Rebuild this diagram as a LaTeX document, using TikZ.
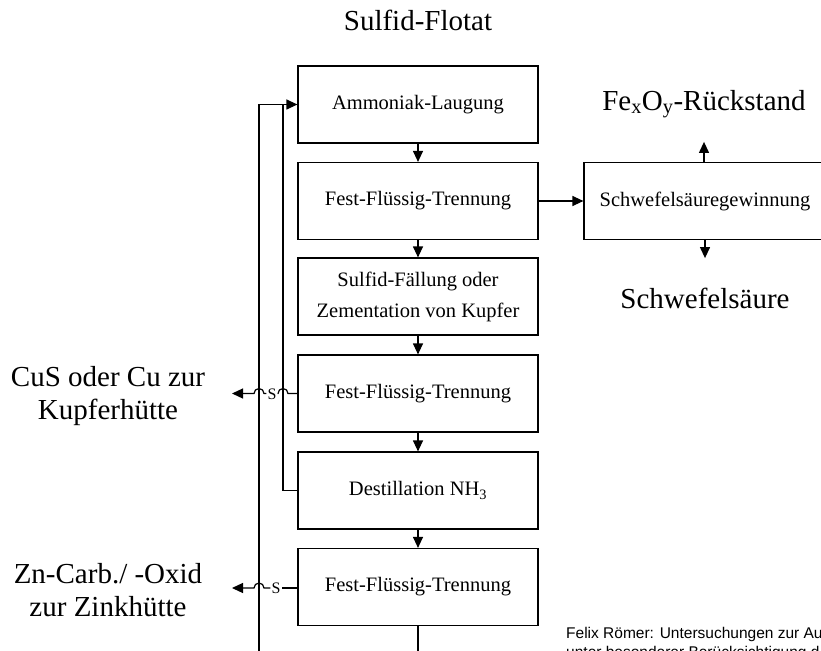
\documentclass[tikz,border=0pt]{standalone}
\usepackage{fontspec}
\setmainfont{Liberation Serif}
\newfontfamily\footfont{Liberation Sans}
\usetikzlibrary{arrows.meta}
\begin{document}
\begin{tikzpicture}[x=1pt,y=-1pt,
  procbox/.style={draw, line width=1.2pt, minimum width=240pt, minimum height=77pt,
    inner sep=0pt, align=center, font=\fontsize{20.5}{31}\selectfont},
  biglabel/.style={font=\fontsize{29}{33}\selectfont, align=center, inner sep=0pt},
  flow/.style={line width=1.2pt, -{Triangle[length=11pt,width=10pt]}},
  plainline/.style={line width=1.2pt},
  slabel/.style={font=\fontsize{16}{16}\selectfont, inner sep=1pt},
  foot/.style={font=\footfont\fontsize{15.5}{17}\selectfont, anchor=base west, inner sep=0pt}]
\path[use as bounding box] (0,0) rectangle (821,650);
\begin{scope}
\clip (0,0) rectangle (821,650);
% process boxes
\node[procbox] (b1) at (418,104.5) {Ammoniak-Laugung};
\node[procbox] (b2) at (418,201) {Fest-Flüssig-Trennung};
\node[procbox] (b3) at (418,296.5) {Sulfid-Fällung oder\\Zementation von Kupfer};
\node[procbox] (b4) at (418,393.5) {Fest-Flüssig-Trennung};
\node[procbox] (b5) at (418,490.5) {Destillation NH\textsubscript{3}};
\node[procbox] (b6) at (418,587) {Fest-Flüssig-Trennung};
\node[procbox, minimum width=242pt] (b7) at (705,201) {Schwefelsäuregewinnung};
% labels
\node[biglabel] (top) at (418,20) {Sulfid-Flotat};
\node[biglabel] (fe) at (704,104) {Fe\textsubscript{x}O\textsubscript{y}-Rückstand};
\node[biglabel] (hs) at (705,298) {Schwefelsäure};
\node[biglabel] (cu) at (108,396) {CuS oder Cu zur\\Kupferhütte};
\node[biglabel] (zn) at (108,590) {Zn-Carb./ -Oxid\\zur Zinkhütte};
\node[foot] (f1) at (566,638) {Felix Römer: Untersuchungen zur Au};
\node[foot] (f2) at (566,657) {unter besonderer Berücksichtigung d};
% main flow
\draw[flow] (b1.south) -- (b2.north);
\draw[flow] (b2.south) -- (b3.north);
\draw[flow] (b3.south) -- (b4.north);
\draw[flow] (b4.south) -- (b5.north);
\draw[flow] (b5.south) -- (b6.north);
\coordinate (out6) at (418,660);
\draw[plainline] (b6.south) -- (out6);
\draw[flow] (b2.east) -- (b7.west);
\draw[flow] (b7.north -| fe) -- ++(0,-20);
\draw[flow] (b7.south -| hs) -- ++(0,18);
% recycle lines
\coordinate (jn) at (259,104.5);
\coordinate (jbot) at (259,660);
\coordinate (rc) at (283,104.5);
\draw[plainline] (jbot) -- (jn);
\draw[plainline] (b5.west) -| (rc);
\draw[flow] (jn) -- (b1.west);
% outputs with line jumps
\node[slabel] (s1) at (272,394) {S};
\node[slabel] (s2) at (276,588) {S};
\coordinate (t1) at (232,393.5);
\coordinate (t2) at (232,588);
\draw[plainline] (b4.west) -- (288,393.5) arc[start angle=0,end angle=-180,radius=5] -- (s1.east |- t1);
\draw[flow] (s1.west |- t1) -- (264,393.5) arc[start angle=0,end angle=-180,radius=5] -- (t1);
\draw[plainline] (b6.west |- t2) -- (s2.east |- t2);
\draw[flow] (s2.west |- t2) -- (264,588) arc[start angle=0,end angle=-180,radius=5] -- (t2);
\end{scope}
\end{tikzpicture}
\end{document}
